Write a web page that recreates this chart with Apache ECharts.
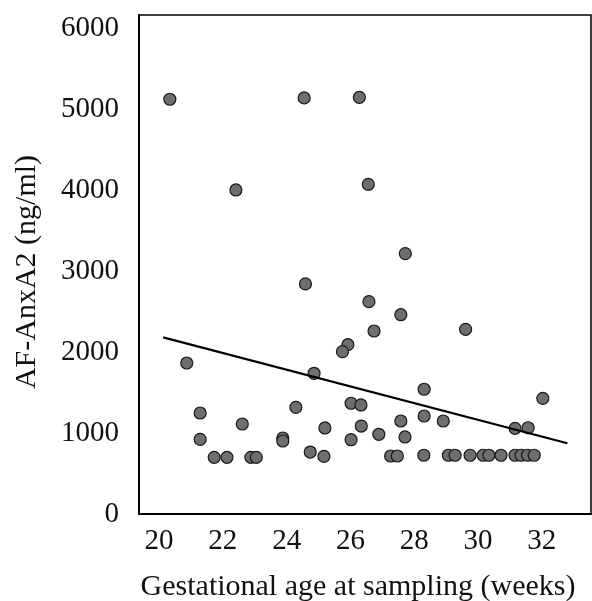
<!DOCTYPE html>
<html>
<head>
<meta charset="utf-8">
<script src="https://cdn.jsdelivr.net/npm/echarts@6/dist/echarts.min.js"></script>
<style>
  html, body { margin: 0; padding: 0; background: #fff; }
  #chart { width: 592px; height: 601px; }
</style>
</head>
<body>
<div id="chart"></div>
<script>
// gestational age (weeks) and AF-AnxA2 (ng/ml)
var ages = [
  20.34, 22.41, 24.55, 26.28, 26.56, 27.72, 24.59, 26.58, 27.58, 26.74,
  25.92, 25.75, 29.61, 20.87, 21.29, 22.61, 21.29, 21.73, 22.13, 22.88,
  23.05, 23.88, 23.88, 24.29, 24.86, 26.02, 26.33, 28.31, 25.20, 26.34,
  27.58, 28.31, 28.91, 26.02, 26.89, 27.71, 24.74, 25.17, 27.26, 27.47,
  28.30, 29.07, 29.28, 29.75, 30.16, 30.34, 30.72, 31.16, 31.35, 31.55,
  31.76, 32.03, 31.16, 31.57
]
var levels = [
  5120, 4000, 5136, 5144, 4070, 3214, 2840, 2621, 2460, 2259,
  2090, 2004, 2280, 1864, 1247, 1111, 922, 700, 700, 700,
  700, 938, 901, 1317, 1737, 1367, 1346, 1540, 1062, 1086,
  1148, 1210, 1148, 917, 984, 951, 765, 712, 716, 716,
  725, 725, 725, 725, 725, 725, 725, 725, 725, 725,
  725, 1428, 1058, 1065
]

// regression line end points
var trendX = [20.13, 32.80]
var trendY = [2181, 873]

var xTicks = [20, 22, 24, 26, 28, 30, 32]
var yTicks = [0, 1000, 2000, 3000, 4000, 5000, 6000]

var points = ages.map(function (a, i) { return [a, levels[i]] })
var trend = trendX.map(function (a, i) { return [a, trendY[i]] })

var font = "'Liberation Serif', 'Times New Roman', serif"

var chart = echarts.init(document.getElementById('chart'), null, {renderer: 'canvas'})

var option = {
  animation: false,
  backgroundColor: '#fff',
  grid: {
    left: 139, right: 1, top: 15, bottom: 87,
    show: true, borderColor: '#000', borderWidth: 1.5
  },
  xAxis: {
    type: 'value',
    min: 19.373,
    max: 33.54,
    splitLine: {show: false},
    axisTick: {show: false},
    axisLine: {lineStyle: {color: '#000', width: 2}},
    axisLabel: {
      customValues: xTicks,
      formatter: function (v) { return String(v) },
      margin: 13,
      color: '#111',
      fontFamily: font,
      fontSize: 29
    }
  },
  yAxis: {
    type: 'value',
    min: 0,
    max: 6160,
    splitLine: {show: false},
    axisTick: {show: false},
    axisLine: {show: true, lineStyle: {color: '#000', width: 2}},
    axisLabel: {
      customValues: yTicks,
      formatter: function (v) { return String(v) },
      margin: 20,
      color: '#111',
      fontFamily: font,
      fontSize: 29
    }
  },
  graphic: [{
    type: 'text',
    x: 27, y: 272,
    rotation: Math.PI / 2,
    style: {
      text: 'AF-AnxA2 (ng/ml)',
      font: '30px ' + font,
      fill: '#111',
      textAlign: 'center',
      textVerticalAlign: 'middle'
    }
  }, {
    type: 'text',
    x: 358, y: 587,
    style: {
      text: 'Gestational age at sampling (weeks)',
      font: '30px ' + font,
      fill: '#111',
      textAlign: 'center',
      textVerticalAlign: 'middle'
    }
  }],
  series: [{
    type: 'scatter',
    data: points,
    symbolSize: 12,
    itemStyle: {color: '#6e6e6e', borderColor: '#1a1a1a', borderWidth: 1.2, opacity: 1}
  }, {
    type: 'line',
    data: trend,
    symbol: 'none',
    lineStyle: {color: '#000', width: 2.2}
  }]
}

chart.setOption(option)
</script>
</body>
</html>
